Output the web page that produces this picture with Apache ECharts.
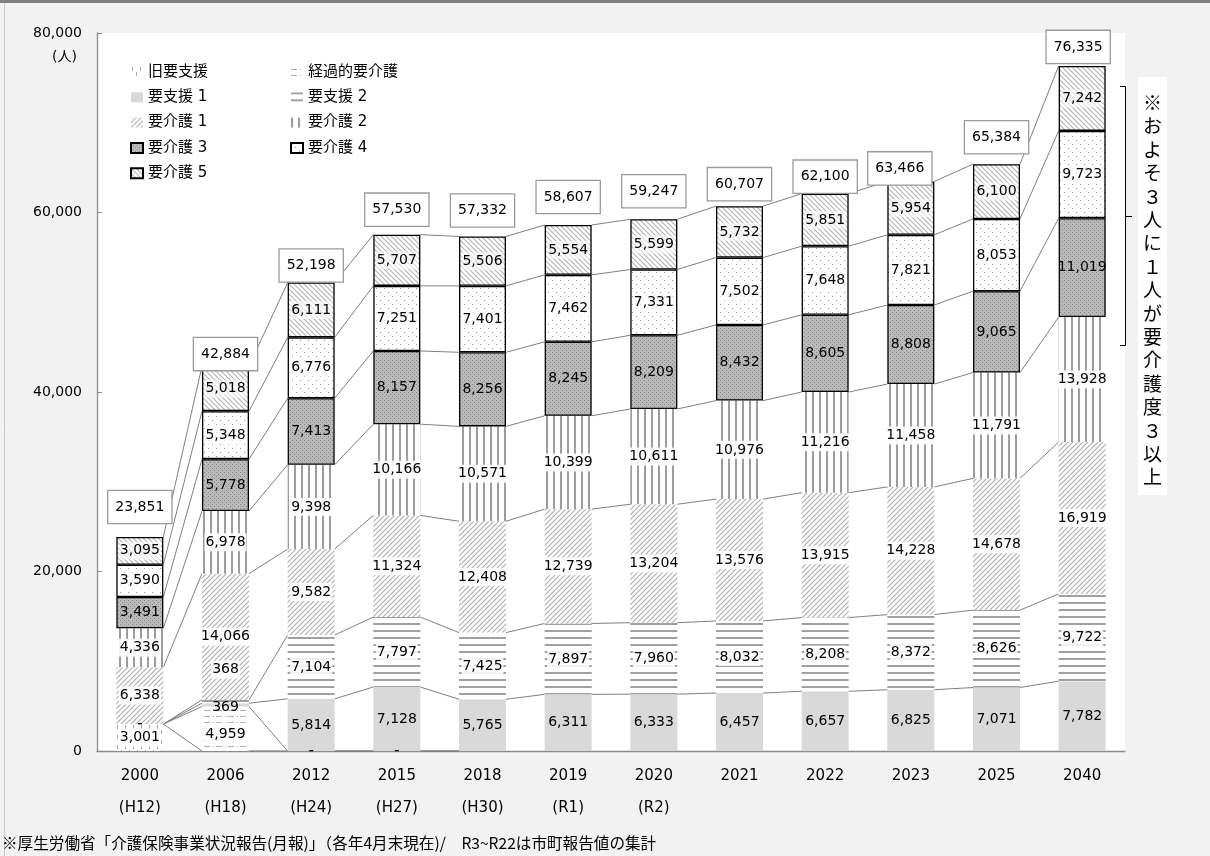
<!DOCTYPE html>
<html><head><meta charset="utf-8">
<script src="https://cdn.jsdelivr.net/npm/echarts@6/dist/echarts.min.js"></script>
<style>html,body{margin:0;padding:0;background:#f2f2f2}#c{width:1210px;height:856px}</style>
</head><body><div id="c"></div>
<script>
// ---------------- data ----------------
const categories = ['2000','2006','2012','2015','2018','2019','2020','2021','2022','2023','2025','2040'];
const eraLabels  = ['(H12)','(H18)','(H24)','(H27)','(H30)','(R1)','(R2)','','','','',''];
const seriesNames = ['旧要支援','経過的要介護','要支援 1','要支援 2','要介護 1','要介護 2','要介護 3','要介護 4','要介護 5'];
const kyuYoshien   = [3001, null, 0, 0, null, null, null, null, null, null, null, null];
const keikaYokaigo = [0, 4959, 0, 0, null, null, null, null, null, null, null, null];
const yoshien1 = [0, 369, 5814, 7128, 5765, 6311, 6333, 6457, 6657, 6825, 7071, 7782];
const yoshien2 = [0, 368, 7104, 7797, 7425, 7897, 7960, 8032, 8208, 8372, 8626, 9722];
const yokaigo1 = [6338, 14066, 9582, 11324, 12408, 12739, 13204, 13576, 13915, 14228, 14678, 16919];
const yokaigo2 = [4336, 6978, 9398, 10166, 10571, 10399, 10611, 10976, 11216, 11458, 11791, 13928];
const yokaigo3 = [3491, 5778, 7413, 8157, 8256, 8245, 8209, 8432, 8605, 8808, 9065, 11019];
const yokaigo4 = [3590, 5348, 6776, 7251, 7401, 7462, 7331, 7502, 7648, 7821, 8053, 9723];
const yokaigo5 = [3095, 5018, 6111, 5707, 5506, 5554, 5599, 5732, 5851, 5954, 6100, 7242];
const totals   = [23851, 42884, 52198, 57530, 57332, 58607, 59247, 60707, 62100, 63466, 65384, 76335];
const yAxisMax = 80000, yAxisInterval = 20000;
const noteText = '※およそ３人に１人が要介護度３以上';
const footText = '※厚生労働省「介護保険事業状況報告(月報)」（各年4月末現在)/　R3~R22は市町報告値の集計';

// ---------------- layout / style ----------------
const BAR_W = 47;
const FONT = "'DejaVu Sans','Noto Sans CJK JP',sans-serif";
const JP = "'Noto Sans CJK JP','DejaVu Sans',sans-serif";
const totalDx = [0, 0, 0, 0, 0, 0, 0, 0, 0, -11, 0, -4];
const totalDy = [-30, -12, -17, -25, -26, -28, -28, -22, -17, -13, -27, -19];
const labelNudge = {1: {1: [0, 6]}, 2: {1: [0, 3]}, 3: {1: [0, -32]}};

function pat(w, h, draw) {
  const c = document.createElement('canvas'); c.width = w; c.height = h;
  const g = c.getContext('2d'); draw(g, w, h);
  return {image: c, repeat: 'repeat'};
}
function diag(g, s, col, lw, back) {
  g.strokeStyle = col; g.lineWidth = lw; g.beginPath();
  if (!back) {
    g.moveTo(0, s); g.lineTo(s, 0); g.moveTo(-1, 1); g.lineTo(1, -1); g.moveTo(s - 1, s + 1); g.lineTo(s + 1, s - 1);
  } else {
    g.moveTo(0, 0); g.lineTo(s, s); g.moveTo(-1, s - 1); g.lineTo(1, s + 1); g.moveTo(s - 1, -1); g.lineTo(s + 1, 1);
  }
  g.stroke();
}
const fills = [
  pat(8, 10, g => { g.fillStyle = '#fff'; g.fillRect(0, 0, 8, 10); g.fillStyle = '#a6a6a6'; g.fillRect(1, 0, 1, 4); g.fillRect(5, 5, 1, 4); }),
  pat(12, 6, g => { g.fillStyle = '#fff'; g.fillRect(0, 0, 12, 6); g.fillStyle = '#b0b0b0'; g.fillRect(0, 2, 6, 1); g.fillRect(9, 2, 1, 1); }),
  '#d9d9d9',
  pat(4, 7, g => { g.fillStyle = '#fff'; g.fillRect(0, 0, 4, 7); g.fillStyle = '#a0a0a0'; g.fillRect(0, 0, 4, 2); }),
  pat(5, 5, g => { g.fillStyle = '#fff'; g.fillRect(0, 0, 5, 5); diag(g, 5, '#b0b0b0', 1.2, false); }),
  pat(7, 4, g => { g.fillStyle = '#fff'; g.fillRect(0, 0, 7, 4); g.fillStyle = '#9c9c9c'; g.fillRect(0, 0, 2, 4); }),
  pat(4, 4, g => { g.fillStyle = '#bababa'; g.fillRect(0, 0, 4, 4); g.fillStyle = '#858585'; g.fillRect(0, 0, 1, 1); g.fillRect(2, 2, 1, 1); }),
  pat(8, 8, g => { g.fillStyle = '#fff'; g.fillRect(0, 0, 8, 8); g.fillStyle = '#999'; g.fillRect(0, 0, 1, 1); g.fillRect(4, 4, 1, 1); }),
  pat(5, 5, g => { g.fillStyle = '#fff'; g.fillRect(0, 0, 5, 5); diag(g, 5, '#b5b5b5', 1.2, true); })
];
const borders = [null, null, null, null, null, null, '#000', '#000', '#000'];
const labelBgs = ['rgba(255,255,255,0.9)', 'rgba(255,255,255,0.9)', 'transparent', 'rgba(255,255,255,0.85)',
  'rgba(255,255,255,0.9)', 'rgba(255,255,255,0.9)', 'transparent', 'rgba(255,255,255,0.6)', 'rgba(255,255,255,0.6)'];

const stacks = [kyuYoshien, keikaYokaigo, yoshien1, yoshien2, yokaigo1, yokaigo2, yokaigo3, yokaigo4, yokaigo5];
const fmt = v => v === 0 ? '-' : v.toLocaleString('en-US');
function cumTop(si, ci) { let s = 0; for (let k = 0; k <= si; k++) s += stacks[k][ci] || 0; return s; }

const barSeries = stacks.map((arr, si) => ({
  name: seriesNames[si], type: 'bar', stack: 'all', barWidth: BAR_W,
  itemStyle: {color: fills[si], borderColor: borders[si] || 'transparent', borderWidth: borders[si] ? 1.3 : 0},
  label: {show: true, position: 'inside', formatter: p => fmt(p.value), color: '#000',
    fontFamily: FONT, fontSize: 14, backgroundColor: labelBgs[si], padding: [2, 1]},
  emphasis: {disabled: true},
  data: arr.map((v, ci) => {
    if (v === null) return null;
    const item = {value: v};
    const lab = {};
    if (v === 0) lab.backgroundColor = 'transparent';
    if (labelNudge[si] && labelNudge[si][ci]) lab.offset = labelNudge[si][ci];
    if (Object.keys(lab).length) item.label = lab;
    return item;
  })
}));

const connector = {
  type: 'custom', silent: true, z: 1, clip: false,
  data: categories.slice(0, -1).map((c, i) => [i, 0]),
  encode: {x: 0, y: 1},
  renderItem: (params, api) => {
    const ci = api.value(0);
    const children = [];
    for (let si = 0; si < stacks.length; si++) {
      if (stacks[si][ci] === null && stacks[si][ci + 1] === null) continue;
      const a = api.coord([ci, cumTop(si, ci)]);
      const b = api.coord([ci + 1, cumTop(si, ci + 1)]);
      children.push({type: 'line', shape: {x1: a[0] + BAR_W / 2, y1: a[1], x2: b[0] - BAR_W / 2, y2: b[1]},
        style: {stroke: '#7f7f7f', lineWidth: 1}});
    }
    return {type: 'group', children};
  }
};

const totalBoxes = {
  type: 'custom', silent: true, z: 5, clip: false,
  data: totals.map((t, i) => [i, t]),
  encode: {x: 0, y: 1},
  renderItem: (params, api) => {
    const ci = params.dataIndex;
    const p = api.coord([api.value(0), api.value(1)]);
    return {type: 'text', x: p[0] + totalDx[ci], y: p[1] + totalDy[ci],
      style: {text: fmt(api.value(1)), font: '14px ' + FONT, fill: '#000', align: 'center', verticalAlign: 'middle',
        backgroundColor: '#fff', borderColor: '#9a9a9a', borderWidth: 1.3, padding: [9, 7, 9, 7]}};
  }
};

const legendCommon = {orient: 'vertical', padding: 0, itemWidth: 12, itemHeight: 10, itemGap: 9.3, selectedMode: false,
  icon: 'rect', textStyle: {fontSize: 15, lineHeight: 16, fontFamily: FONT, color: '#000'}};

const chart = echarts.init(document.getElementById('c'), null, {renderer: 'canvas'});
chart.setOption({
  backgroundColor: '#f2f2f2',
  animation: false,
  textStyle: {fontFamily: FONT},
  grid: {left: 97, right: 85, top: 33, bottom: 105, show: true, backgroundColor: '#fff', borderWidth: 0, outerBoundsMode: 'none'},
  legend: [
    Object.assign({}, legendCommon, {left: 130, top: 64, data: ['旧要支援', '要支援 1', '要介護 1', '要介護 3', '要介護 5']}),
    Object.assign({}, legendCommon, {left: 290, top: 64, data: ['経過的要介護', '要支援 2', '要介護 2', '要介護 4']})
  ],
  xAxis: {
    type: 'category', data: categories, boundaryGap: true,
    axisLine: {lineStyle: {color: '#8c8c8c', width: 1.3}},
    axisTick: {inside: true, length: 5, lineStyle: {color: '#8c8c8c'}},
    axisLabel: {margin: 9, fontSize: 15, lineHeight: 32, color: '#000', fontFamily: FONT,
      formatter: (v, i) => eraLabels[i] ? v + '\n' + eraLabels[i] : v}
  },
  yAxis: {
    type: 'value', min: 0, max: yAxisMax, interval: yAxisInterval,
    axisLine: {show: true, lineStyle: {color: '#8c8c8c', width: 1.3}},
    axisTick: {show: true, inside: true, length: 5, lineStyle: {color: '#8c8c8c'}},
    splitLine: {show: false},
    axisLabel: {margin: 15, fontSize: 14, color: '#000', fontFamily: FONT, formatter: v => v.toLocaleString('en-US')}
  },
  graphic: [
    {type: 'rect', left: 0, top: 0, shape: {width: 1210, height: 3}, style: {fill: '#7f7f7f'}, silent: true},
    {type: 'line', shape: {x1: 4.5, y1: 3, x2: 4.5, y2: 856}, style: {stroke: '#c8c8c8', lineWidth: 1}, silent: true},
    {type: 'text', left: 52, top: 50, style: {text: '(人)', font: '14px ' + FONT, fill: '#000'}},
    {type: 'polyline', shape: {points: [[1120, 86.5], [1125.5, 86.5], [1125.5, 345.5], [1120, 345.5]]}, style: {stroke: '#000', lineWidth: 1, fill: null}},
    {type: 'line', shape: {x1: 1125.5, y1: 216.5, x2: 1132, y2: 216.5}, style: {stroke: '#000', lineWidth: 1}},
    {type: 'rect', shape: {x: 1138, y: 77, width: 29, height: 418}, style: {fill: '#fff'}},
    {type: 'text', x: 1152.5, y: 91, style: {text: noteText.split('').join('\n'), font: '19px ' + JP, lineHeight: 23.4, fill: '#000', align: 'center', verticalAlign: 'top'}},
    {type: 'text', x: 2, y: 843, style: {text: footText, font: '15.6px ' + JP, fill: '#000', verticalAlign: 'middle'}}
  ],
  series: [connector, ...barSeries, totalBoxes]
});
</script></body></html>
